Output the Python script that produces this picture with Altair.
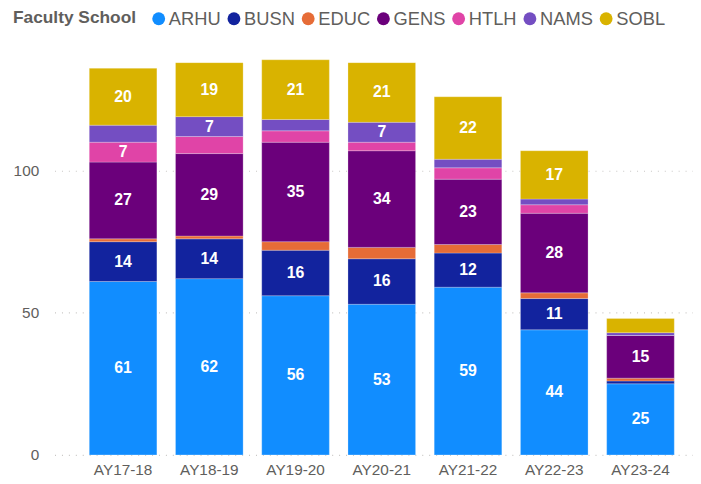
import altair as alt
import pandas as pd

years = ["AY17-18", "AY18-19", "AY19-20", "AY20-21", "AY21-22", "AY22-23", "AY23-24"]
schools = ["ARHU", "BUSN", "EDUC", "GENS", "HTLH", "NAMS", "SOBL"]
colors = ["#118DFF", "#12239E", "#E66C37", "#6B007B", "#E044A7", "#744EC2", "#D9B300"]

ARHU = [61, 62, 56, 53, 59, 44, 25]
BUSN = [14, 14, 16, 16, 12, 11, 1]
EDUC = [1, 1, 3, 4, 3, 2, 1]
GENS = [27, 29, 35, 34, 23, 28, 15]
HTLH = [7, 6, 4, 3, 4, 3, 0]
NAMS = [6, 7, 4, 7, 3, 2, 1]
SOBL = [20, 19, 21, 21, 22, 17, 5]

series = [ARHU, BUSN, EDUC, GENS, HTLH, NAMS, SOBL]
rows = []
for si, (s, vals) in enumerate(zip(schools, series)):
    for y, v in zip(years, vals):
        rows.append({"year": y, "school": s, "value": v, "ord": si})
df = pd.DataFrame(rows)

FONT = "Liberation Sans"
GRAY = "#605E5C"

x = alt.X("year:N", sort=years, title=None,
          scale=alt.Scale(paddingInner=0.216, paddingOuter=0.31, align=0.65),
          axis=alt.Axis(labelAngle=0, domain=False, ticks=False, labelPadding=8,
                        labelFontSize=15.5, labelColor=GRAY, labelFont=FONT))

base = alt.Chart(df)

bars = base.mark_bar(stroke="white", strokeWidth=0.4, strokeOpacity=0.6).encode(
    x=x,
    y=alt.Y("value:Q", stack="zero", title=None,
            scale=alt.Scale(domain=[0, 140], nice=False),
            axis=alt.Axis(values=[0, 50, 100], domain=False, ticks=False, labelPadding=16,
                          labelFontSize=15.5, labelColor=GRAY, labelFont=FONT,
                          gridColor="#C8C6C4", gridDash=[1, 6], gridWidth=1.2)),
    color=alt.Color("school:N", sort=schools,
                    scale=alt.Scale(domain=schools, range=colors),
                    legend=alt.Legend(orient="none", legendX=-42, legendY=-48,
                                      direction="horizontal", title="Faculty School",
                                      titleOrient="left", titleFontSize=17.5, titleFont=FONT,
                                      titleFontWeight="bold", titleColor=GRAY, titlePadding=13,
                                      labelFontSize=18.5, labelFont=FONT, labelColor=GRAY,
                                      symbolType="circle", symbolSize=169, symbolStrokeWidth=0,
                                      symbolOffset=0, labelOffset=1, columnPadding=4)),
    order=alt.Order("ord:Q", sort="ascending"),
)

labels = base.transform_stack(
    stack="value", groupby=["year"], as_=["v0", "v1"],
    sort=[alt.SortField("ord", order="ascending")]
).transform_calculate(
    mid="(datum.v0 + datum.v1) / 2"
).transform_filter(
    "datum.value >= 7"
).mark_text(color="white", fontWeight="bold", fontSize=16, font=FONT, baseline="middle").encode(
    x=alt.X("year:N", sort=years),
    y=alt.Y("mid:Q"),
    text=alt.Text("value:Q"),
)

chart = alt.layer(bars, labels).properties(
    width=645, height=402,
    autosize=alt.AutoSizeParams(type="none"),
    padding={"left": 47, "top": 47, "right": 0, "bottom": 30},
).configure_view(stroke=None)

chart.save("out.html", embed_options={"renderer": "svg", "actions": False})
